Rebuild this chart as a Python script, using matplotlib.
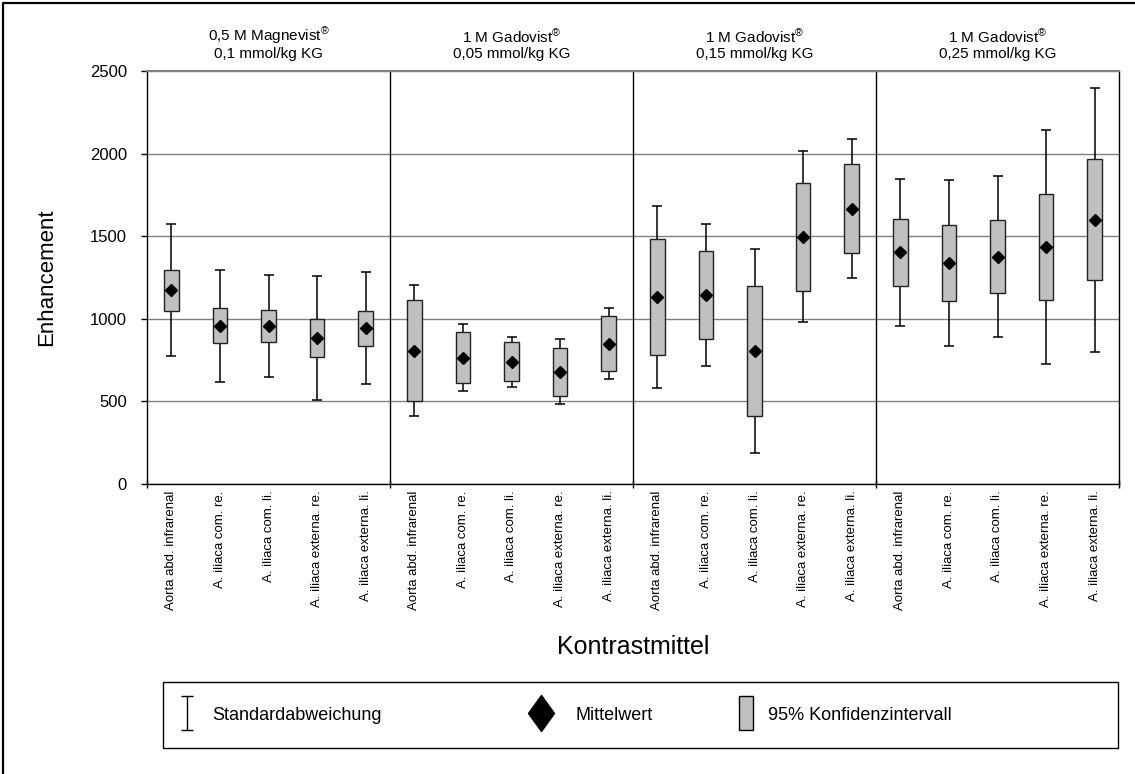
import matplotlib
matplotlib.use("Agg")
import matplotlib.pyplot as plt
from matplotlib.lines import Line2D
from matplotlib.patches import Rectangle
from matplotlib.path import Path

plt.rcParams["font.family"] = ["Liberation Sans", "DejaVu Sans"]
plt.rcParams["mathtext.default"] = "regular"

# gefaesse je kontrastmittel-gruppe
vessels = ["Aorta abd. infrarenal", "A. iliaca com. re.", "A. iliaca com. li.",
           "A. iliaca externa. re.", "A. iliaca externa. li."]
groups = ["0,5 M Magnevist$^{®}$\n0,1 mmol/kg KG",
          "1 M Gadovist$^{®}$\n0,05 mmol/kg KG",
          "1 M Gadovist$^{®}$\n0,15 mmol/kg KG",
          "1 M Gadovist$^{®}$\n0,25 mmol/kg KG"]
labels = vessels * len(groups)

# mittelwert, standardabweichung, halbe breite des 95%-konfidenzintervalls
mean = [1173, 958, 956, 884, 943,
        808, 765, 740, 679, 848,
        1131, 1144, 806, 1497, 1667,
        1403, 1337, 1377, 1435, 1601]
sd = [399, 338, 310, 373, 340,
      396, 201, 150, 196, 215,
      552, 427, 618, 518, 423,
      446, 502, 485, 709, 799]
ci = [124, 107, 97, 117, 107,
      307, 154, 117, 147, 166,
      350, 269, 392, 328, 268,
      203, 231, 223, 323, 365]

x = list(range(len(labels)))

fig = plt.figure(figsize=(11.35, 7.74), dpi=100)
ax = fig.add_axes([147 / 1135, 1 - 484 / 774, 972 / 1135, 413 / 774])

ax.errorbar(x, mean, yerr=sd, fmt="none", ecolor="black", elinewidth=1.1,
            capsize=3.6, capthick=1.1, zorder=2)
ax.bar(x, [2 * c for c in ci], bottom=[m - c for m, c in zip(mean, ci)],
       width=0.3, color="#c0c0c0", edgecolor="#222222", linewidth=1, zorder=3)
ax.plot(x, mean, linestyle="none", marker="D", markersize=6.6,
        color="black", zorder=4)

ax.set_xlim(-0.5, len(labels) - 0.5)
ax.set_ylim(0, 2500)
ax.set_yticks(range(0, 2501, 500))
ax.yaxis.grid(True, color="#808080", linewidth=1)
ax.set_axisbelow(True)
ax.tick_params(axis="y", direction="out", length=4.5, width=1, pad=10, labelsize=12)

# gruppengrenzen als major ticks, beschriftung ueber minor ticks
bounds = [i * 5 - 0.5 for i in range(len(groups) + 1)]
ax.set_xticks(bounds)
ax.set_xticklabels([])
ax.tick_params(axis="x", which="major", direction="inout", length=6, width=1)
ax.set_xticks(x, minor=True)
ax.set_xticklabels(labels, minor=True, rotation=90, fontsize=9.5)
ax.tick_params(axis="x", which="minor", length=0, pad=4.5)

for b in bounds[1:-1]:
    ax.axvline(b, color="black", linewidth=1, zorder=1)

for i, g in enumerate(groups):
    ax.text(i * 5 + 2, 1.025, g, transform=ax.get_xaxis_transform(),
            ha="center", va="bottom", fontsize=11, linespacing=1.1)

ax.spines["top"].set_color("#808080")
ax.spines["top"].set_linewidth(1.5)
for s in ["left", "bottom", "right"]:
    ax.spines[s].set_color("black")
    ax.spines[s].set_linewidth(1)

ax.set_ylabel("Enhancement", fontsize=16)
ax.yaxis.set_label_coords(-0.092, 0.5)
fig.text(633 / 1135, 1 - 647 / 774, "Kontrastmittel", fontsize=18,
         ha="center", va="center")

# legende
whisker = Path([(-0.35, -1), (0.35, -1), (0, -1), (0, 1), (-0.35, 1), (0.35, 1)],
               [Path.MOVETO, Path.LINETO, Path.MOVETO, Path.LINETO, Path.MOVETO, Path.LINETO])
diamond = Path([(0, 1), (0.72, 0), (0, -1), (-0.72, 0), (0, 1)],
               [Path.MOVETO, Path.LINETO, Path.LINETO, Path.LINETO, Path.CLOSEPOLY])
box = Path([(-0.42, -1), (0.42, -1), (0.42, 1), (-0.42, 1), (-0.42, -1)],
           [Path.MOVETO, Path.LINETO, Path.LINETO, Path.LINETO, Path.CLOSEPOLY])

items = [
    (Line2D([], [], linestyle="none", marker=whisker, markersize=25,
            markerfacecolor="none", markeredgecolor="black", markeredgewidth=1),
     "Standardabweichung", 176, 0.8),
    (Line2D([], [], linestyle="none", marker=diamond, markersize=26,
            color="black"),
     "Mittelwert", 530, 1.3),
    (Line2D([], [], linestyle="none", marker=box, markersize=25,
            markerfacecolor="#c0c0c0", markeredgecolor="black", markeredgewidth=1),
     "95% Konfidenzintervall", 735, 0.6),
]
for handle, text, px, tpad in items:
    fig.legend([handle], [text], loc="center left",
               bbox_to_anchor=(px / 1135, 1 - 715 / 774), frameon=False,
               fontsize=13, borderpad=0, borderaxespad=0, handlelength=1.2,
               handletextpad=tpad, numpoints=1)

fig.add_artist(Rectangle((163 / 1135, 1 - 748 / 774), 955 / 1135, 66 / 774,
                         transform=fig.transFigure, fill=False,
                         edgecolor="black", linewidth=1))

# rahmen um die ganze abbildung
fig.add_artist(Line2D([2.5 / 1135, 2.5 / 1135, 1], [0, 1 - 2.5 / 774, 1 - 2.5 / 774],
                      transform=fig.transFigure, color="black", linewidth=1.6))

fig.savefig("out.png", dpi=100)
